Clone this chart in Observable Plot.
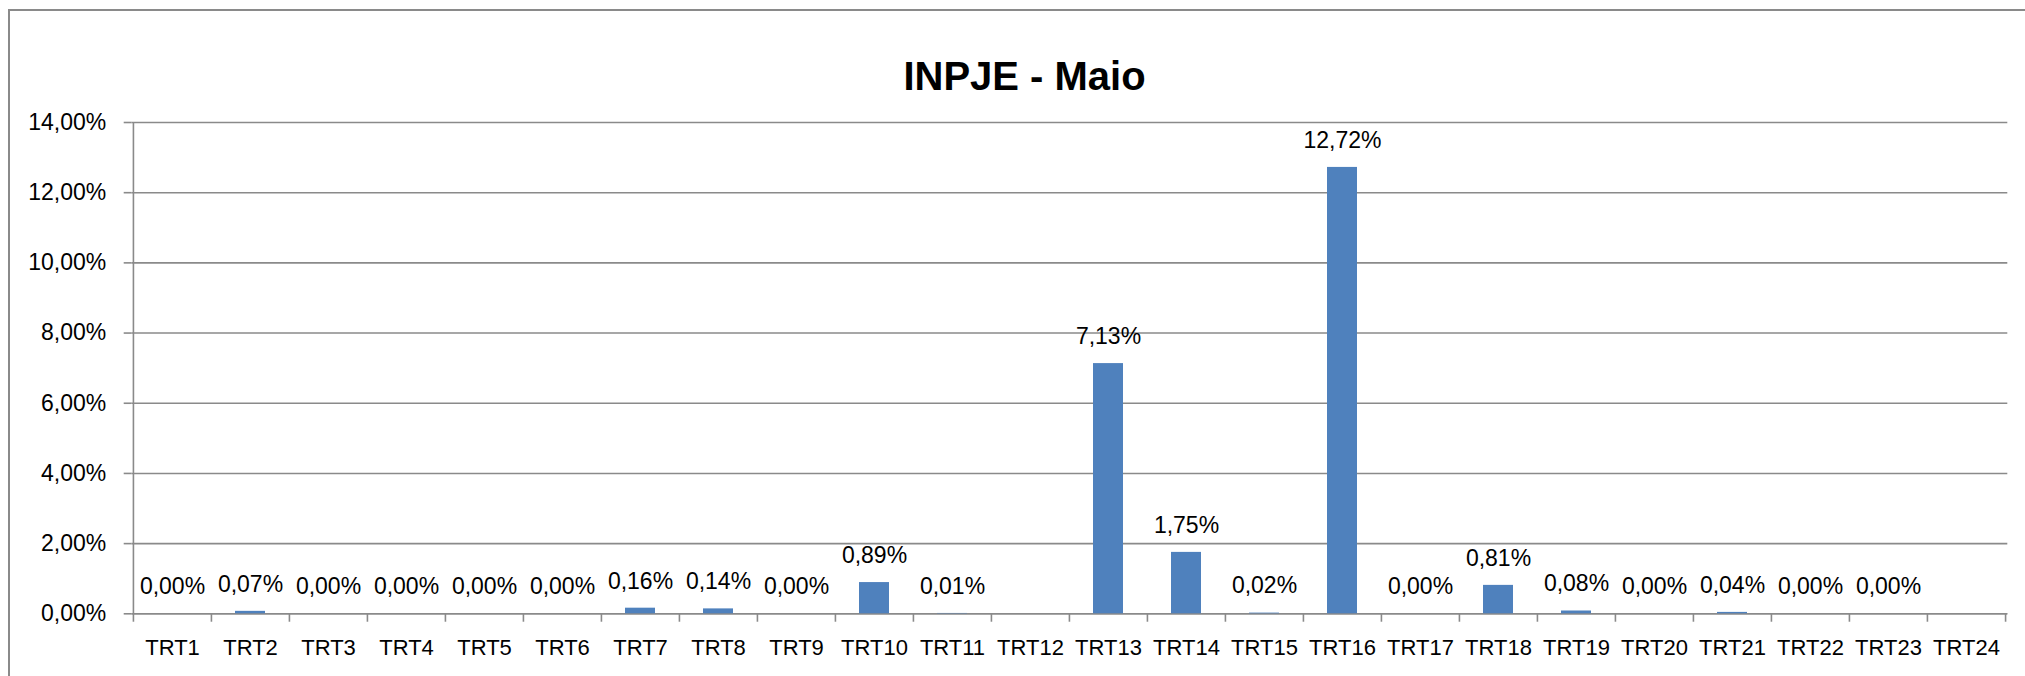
<!DOCTYPE html>
<html>
<head>
<meta charset="utf-8">
<script src="https://cdn.jsdelivr.net/npm/d3@7"></script>
<script src="https://cdn.jsdelivr.net/npm/@observablehq/plot@0.6"></script>
<style>
  html, body { margin: 0; padding: 0; background: #fff; overflow: hidden; }
  #wrap { position: relative; width: 2025px; height: 676px; }
  #border { position: absolute; left: 8px; top: 9px; width: 3000px; height: 3000px;
            border-left: 2px solid #8a8a8a; border-top: 2px solid #8a8a8a; pointer-events: none; }
  #chart svg { display: block; }
</style>
</head>
<body>
<div id="wrap"><div id="chart"></div><div id="border"></div></div>
<script>
const title = "INPJE - Maio";
const categories = ["TRT1","TRT2","TRT3","TRT4","TRT5","TRT6","TRT7","TRT8","TRT9","TRT10","TRT11","TRT12",
                    "TRT13","TRT14","TRT15","TRT16","TRT17","TRT18","TRT19","TRT20","TRT21","TRT22","TRT23","TRT24"];
const values = [0.00, 0.07, 0.00, 0.00, 0.00, 0.00, 0.16, 0.14, 0.00, 0.89, 0.01, null,
                7.13, 1.75, 0.02, 12.72, 0.00, 0.81, 0.08, 0.00, 0.04, 0.00, 0.00, null];
const yTicks = [0, 2, 4, 6, 8, 10, 12, 14];

const fmt = d => d.toFixed(2).replace(".", ",") + "%";
const data = categories.map((c, i) => ({cat: c, v: values[i]}));
const shown = data.filter(d => d.v != null);

const W = 2025, H = 676;
const mL = 131.7, mR = 17.7, mT = 122, mB = 62.7;
const step = (W - mL - mR) / categories.length;
const gray = "#8a8a8a";

const chart = Plot.plot({
  width: W, height: H,
  marginLeft: mL, marginRight: mR, marginTop: mT, marginBottom: mB,
  style: {fontFamily: "'Liberation Sans', Arial, sans-serif", background: "transparent", color: "#000"},
  x: {type: "band", domain: categories, paddingInner: 0.61, paddingOuter: 0.305, label: null},
  y: {domain: [0, 14], label: null},
  marks: [
    Plot.gridY(yTicks, {stroke: gray, strokeOpacity: 1, strokeWidth: 1.6}),
    Plot.ruleX([categories[0]], {x: d => d, y1: 0, y2: 14, dx: -step / 2, stroke: gray, strokeWidth: 1.6}),
    Plot.ruleY([0], {stroke: gray, strokeWidth: 1.6}),
    Plot.ruleX(categories, {x: d => d, y1: 0, y2: -0.24, dx: -step / 2, stroke: gray, strokeWidth: 1.6}),
    Plot.ruleX([categories[categories.length - 1]], {x: d => d, y1: 0, y2: -0.24, dx: step / 2, stroke: gray, strokeWidth: 1.6}),
    Plot.axisY(yTicks, {tickSize: 8, tickPadding: 18, tickFormat: fmt, fontSize: 23, stroke: gray, strokeWidth: 1.6, label: null}),
    Plot.axisX({tickSize: 0, tickPadding: 26, fontSize: 22, label: null}),
    Plot.barY(shown, {x: "cat", y: "v", fill: "#4F81BD"}),
    Plot.text(shown, {x: "cat", y: "v", text: d => fmt(d.v), dy: -27, fontSize: 23, fill: "#000"}),
    Plot.text([title], {frameAnchor: "top", dx: -45.5, dy: -61.3, fontSize: 40, fontWeight: "bold", fill: "#000"})
  ]
});
document.getElementById("chart").appendChild(chart);
</script>
</body>
</html>
